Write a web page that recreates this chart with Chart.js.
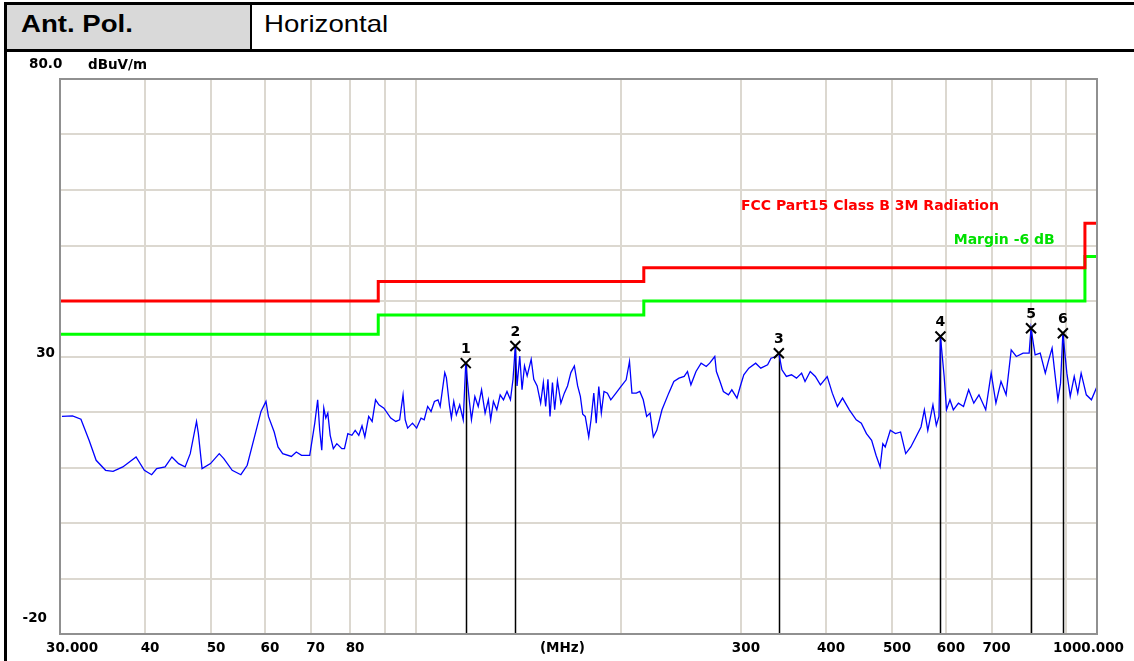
<!DOCTYPE html>
<html>
<head>
<meta charset="utf-8">
<script src="https://cdn.jsdelivr.net/npm/chart.js@4.4.0/dist/chart.umd.min.js"></script>
<style>
  body { margin: 0; background: #fff; }
  #page { position: relative; width: 1134px; height: 661px; overflow: hidden; font-family: Arial, "Liberation Sans", sans-serif; }
  .bar { position: absolute; background: #000; }
  .cell { position: absolute; font-size: 24px; line-height: 24px; transform: scaleX(1.15); transform-origin: left center; color: #000; }
  #chartBox { position: absolute; left: 7px; top: 52px; }
</style>
</head>
<body>
<div id="page">
  <div style="position:absolute;left:7px;top:5px;width:243px;height:44px;background:#d9d9d9"></div>
  <div class="bar" style="left:4px;top:2px;width:1130px;height:3px"></div>
  <div class="bar" style="left:4px;top:49px;width:1130px;height:3px"></div>
  <div class="bar" style="left:4px;top:2px;width:3px;height:659px"></div>
  <div class="bar" style="left:250px;top:2px;width:2px;height:48px"></div>
  <div class="cell" style="left:21px;top:12px;font-weight:bold">Ant. Pol.</div>
  <div class="cell" style="left:264px;top:12px">Horizontal</div>
  <div id="chartBox"><canvas id="emi" width="1127" height="609"></canvas></div>
</div>
<script>
const traceFreq = [
  30.2, 31.3, 32.2, 33.1, 33.9, 35.0, 35.9, 37.1, 38.8, 39.9, 40.9, 41.6, 42.8, 43.8, 44.8, 45.8,
  46.6, 47.6, 47.9, 48.5, 49.9, 51.4, 52.2, 53.7, 55.3, 56.5, 59.2, 60.2, 60.7, 61.9, 62.7, 63.7,
  65.6, 66.7, 67.9, 69.8, 71.0, 71.7, 72.2, 72.7, 73.2, 73.7, 74.2, 74.8, 75.6, 76.5, 77.8, 78.5,
  79.4, 80.5, 81.4, 82.4, 83.3, 84.1, 85.2, 86.2, 87.2, 88.2, 89.7, 91.8, 93.4, 94.6, 95.7, 96.4,
  97.2, 98.8, 100.2, 101.7, 102.8, 104.0, 105.2, 106.4, 107.7, 108.5, 110.2, 110.8, 112.0, 112.7, 113.6, 114.6,
  115.9, 117.3, 118.3, 119.7, 120.6, 122.0, 123.4, 124.8, 126.3, 127.7, 128.7, 129.9, 131.4, 132.9, 134.4, 136.0,
  137.6, 138.8, 139.9, 140.7, 142.0, 143.1, 144.3, 145.6, 147.6, 148.9, 150.6, 152.4, 153.8, 155.0, 156.2, 157.3,
  158.6, 159.8, 161.3, 163.2, 165.1, 166.9, 168.8, 170.8, 172.7, 174.3, 175.7, 177.2, 179.3, 180.7, 182.4, 183.9,
  185.5, 187.1, 188.8, 191.0, 193.2, 196.6, 200.0, 203.5, 205.8, 207.5, 210.6, 213.1, 215.6, 218.1, 220.6, 223.1,
  225.7, 229.7, 235.0, 239.1, 243.3, 247.6, 250.4, 253.3, 257.7, 262.2, 266.8, 269.9, 274.6, 276.1, 279.5, 282.7,
  287.6, 290.9, 296.0, 299.3, 302.9, 308.1, 315.3, 320.8, 328.3, 332.1, 337.9, 341.0, 344.6, 349.8, 355.9, 362.0,
  368.3, 372.6, 379.2, 385.8, 392.5, 401.6, 408.6, 415.7, 423.0, 432.8, 443.0, 450.7, 458.6, 466.7, 473.7, 480.3,
  484.7, 488.6, 497.1, 505.8, 514.7, 523.7, 532.8, 542.1, 551.5, 557.8, 564.3, 574.2, 580.8, 586.0, 589.0, 596.4,
  601.2, 608.2, 615.2, 625.9, 636.8, 647.9, 659.3, 670.9, 686.4, 699.2, 710.5, 722.8, 735.4, 748.2, 761.2, 778.9,
  795.0, 800.0, 811.2, 825.3, 839.6, 849.4, 859.1, 866.1, 876.2, 884.0, 891.0, 903.1, 913.5, 925.9, 937.0, 947.8,
  964.5, 981.3, 1000.0
];
const traceLevel = [
  19.2, 19.3, 18.7, 14.9, 11.3, 9.5, 9.3, 10.1, 11.9, 9.5, 8.7, 9.8, 10.1, 11.9, 10.7, 10.1,
  12.5, 18.3, 16.1, 9.8, 10.7, 12.5, 11.6, 9.5, 8.7, 10.4, 20.1, 21.9, 19.2, 16.4, 13.7, 12.5,
  12.0, 12.8, 12.2, 12.2, 18.0, 22.2, 16.7, 13.1, 20.7, 18.9, 19.8, 15.8, 13.4, 14.3, 13.4, 13.4,
  16.1, 15.8, 16.7, 15.8, 17.5, 15.5, 19.2, 18.3, 22.2, 21.3, 20.7, 18.9, 18.3, 18.6, 23.1, 18.6,
  17.1, 18.0, 17.1, 18.9, 18.6, 21.0, 20.1, 21.9, 22.2, 21.0, 27.1, 26.2, 21.0, 18.9, 21.9, 19.5,
  21.3, 18.6, 28.8, 22.2, 18.6, 22.8, 21.0, 24.0, 19.8, 22.2, 18.6, 21.9, 20.4, 23.1, 22.2, 23.7,
  22.2, 25.9, 31.9, 24.7, 30.1, 24.0, 28.3, 26.5, 29.5, 25.9, 24.7, 21.6, 25.3, 21.0, 25.9, 19.2,
  25.3, 20.4, 25.6, 21.6, 23.4, 24.7, 27.1, 28.3, 24.7, 22.8, 19.6, 19.2, 15.5, 18.6, 23.4, 18.0,
  24.6, 19.8, 23.7, 23.4, 22.2, 23.4, 24.6, 25.8, 29.1, 23.4, 23.4, 23.7, 22.2, 19.2, 19.8, 15.5,
  16.7, 20.4, 23.4, 25.5, 26.1, 26.4, 27.3, 24.9, 27.3, 28.8, 28.2, 28.8, 30.0, 27.3, 25.5, 23.7,
  23.1, 24.0, 22.5, 24.6, 26.7, 27.9, 28.8, 27.9, 28.5, 29.7, 30.0, 30.6, 27.6, 26.4, 26.7, 26.1,
  27.0, 25.5, 27.3, 26.4, 24.9, 26.4, 23.4, 21.0, 22.5, 20.4, 18.6, 18.0, 16.1, 14.9, 12.2, 10.1,
  14.3, 13.7, 16.7, 16.1, 16.4, 12.5, 13.7, 15.5, 17.3, 20.4, 16.7, 21.3, 17.6, 19.2, 33.6, 26.4,
  20.4, 22.2, 20.4, 21.6, 21.0, 24.0, 21.6, 23.1, 20.4, 27.0, 21.6, 25.5, 23.1, 31.2, 30.0, 30.6,
  30.6, 35.1, 30.3, 30.6, 27.0, 29.4, 31.5, 27.6, 22.2, 25.2, 34.2, 27.0, 22.8, 26.4, 23.4, 27.0,
  23.1, 22.2, 24.6
];

// FCC Part15 Class B 3 m limit and the -6 dB margin line
const limitFreq = [30, 88, 88, 216, 216, 960, 960, 1000];
const limitLevel = [40, 40, 43.5, 43.5, 46, 46, 54, 54];
const marginLevel = [34, 34, 37.5, 37.5, 40, 40, 48, 48];

// peak markers
const markerNo = ['1', '2', '3', '4', '5', '6'];
const markerFreq = [118.3, 139.9, 341.0, 589.0, 800.0, 891.0];
const markerLevel = [28.8, 31.9, 30.6, 33.6, 35.1, 34.2];

// axis grid and labels
const xGrid = [30, 40, 50, 60, 70, 80, 90, 100, 200, 300, 400, 500, 600, 700, 800, 900, 1000];
const xLabelValues = [30, 40, 50, 60, 70, 80, 300, 400, 500, 600, 700, 1000];
const xLabelTexts = ['30.000', '40', '50', '60', '70', '80', '300', '400', '500', '600', '700', '1000.000'];
const yMin = -20, yMax = 80, yStep = 10;

const pts = (xs, ys) => xs.map((f, i) => ({ x: f, y: ys[i] }));
const FONT = '"DejaVu Sans", sans-serif';

const overlay = {
  id: 'overlay',
  beforeDatasetsDraw(chart) {
    const { ctx, scales: { x, y } } = chart;
    ctx.save();
    ctx.strokeStyle = '#000';
    ctx.lineWidth = 1.5;
    markerFreq.forEach((f, i) => {
      const px = Math.round(x.getPixelForValue(f)) + 0.5;
      ctx.beginPath();
      ctx.moveTo(px, y.getPixelForValue(yMin));
      ctx.lineTo(px, y.getPixelForValue(markerLevel[i]));
      ctx.stroke();
    });
    ctx.restore();
  },
  afterDatasetsDraw(chart) {
    const { ctx, chartArea: a, scales: { x, y } } = chart;
    ctx.save();
    // plot frame
    ctx.strokeStyle = '#909090';
    ctx.lineWidth = 2;
    ctx.strokeRect(a.left, a.top, a.right - a.left, a.bottom - a.top);

    // markers: x sign + number
    ctx.strokeStyle = '#000';
    ctx.lineWidth = 2;
    ctx.fillStyle = '#000';
    ctx.font = 'bold 14px ' + FONT;
    ctx.textAlign = 'center';
    ctx.textBaseline = 'middle';
    markerFreq.forEach((f, i) => {
      const px = x.getPixelForValue(f), py = y.getPixelForValue(markerLevel[i]);
      ctx.beginPath();
      ctx.moveTo(px - 5, py - 5); ctx.lineTo(px + 5, py + 5);
      ctx.moveTo(px + 5, py - 5); ctx.lineTo(px - 5, py + 5);
      ctx.stroke();
      ctx.fillText(markerNo[i], px, py - 14);
    });

    // line captions
    ctx.textAlign = 'left';
    ctx.fillStyle = '#ff0000';
    ctx.fillText('FCC Part15 Class B 3M Radiation', x.getPixelForValue(300), y.getPixelForValue(57.1));
    ctx.fillStyle = '#00e000';
    ctx.fillText('Margin -6 dB', x.getPixelForValue(616), y.getPixelForValue(51));
    ctx.restore();
  },
  afterDraw(chart) {
    const { ctx, chartArea: a, scales: { x, y } } = chart;
    ctx.save();
    ctx.fillStyle = '#000';
    ctx.font = 'bold 13.5px ' + FONT;
    ctx.textBaseline = 'middle';
    const ty = a.bottom + 14;
    xLabelValues.forEach((v, i) => {
      const px = x.getPixelForValue(v);
      if (i === 0) { ctx.textAlign = 'left'; ctx.fillText(xLabelTexts[i], px - 14, ty); }
      else if (i === xLabelValues.length - 1) { ctx.textAlign = 'right'; ctx.fillText(xLabelTexts[i], px + 27, ty); }
      else { ctx.textAlign = 'center'; ctx.fillText(xLabelTexts[i], px + 5, ty); }
    });
    ctx.textAlign = 'center';
    ctx.fillText('(MHz)', x.getPixelForValue(164), ty);

    ctx.textAlign = 'left';
    ctx.fillText('80.0', a.left - 31, y.getPixelForValue(yMax) - 15);
    ctx.fillText('dBuV/m', a.left + 28, y.getPixelForValue(yMax) - 14);
    ctx.textAlign = 'right';
    ctx.fillText('30', a.left - 5, y.getPixelForValue(30) - 3);
    ctx.fillText('-20', a.left - 13, y.getPixelForValue(yMin) - 16);
    ctx.restore();
  }
};

new Chart(document.getElementById('emi'), {
  type: 'line',
  data: {
    datasets: [
      { label: 'Level', data: pts(traceFreq, traceLevel), borderColor: '#0000ff', borderWidth: 1.3 },
      { label: 'Limit', data: pts(limitFreq, limitLevel), borderColor: '#ff0000', borderWidth: 3 },
      { label: 'Margin', data: pts(limitFreq, marginLevel), borderColor: '#00ff00', borderWidth: 3 }
    ]
  },
  options: {
    responsive: false,
    animation: false,
    layout: { padding: { left: 53, right: 37, top: 27, bottom: 27 } },
    elements: { point: { radius: 0 }, line: { tension: 0 } },
    plugins: { legend: { display: false }, tooltip: { enabled: false } },
    scales: {
      x: {
        type: 'logarithmic', min: 30, max: 1000,
        afterBuildTicks: s => { s.ticks = xGrid.map(v => ({ value: v })); },
        ticks: { display: false },
        grid: { color: '#dcd8d0', lineWidth: 2, drawTicks: false },
        border: { display: false }
      },
      y: {
        type: 'linear', min: yMin, max: yMax,
        ticks: { display: false, stepSize: yStep },
        grid: { color: '#dcd8d0', lineWidth: 2, drawTicks: false },
        border: { display: false }
      }
    }
  },
  plugins: [overlay]
});
</script>
</body>
</html>
